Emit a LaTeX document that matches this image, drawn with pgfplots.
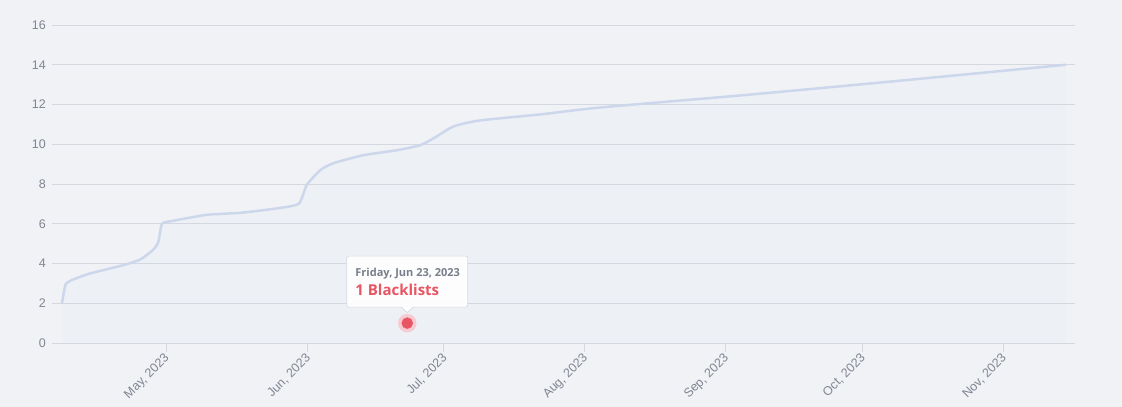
\documentclass[border=0pt]{standalone}
\usepackage{pgfplots}
\pgfplotsset{compat=1.18}
\usepackage{fontspec}
\setmainfont{Liberation Sans}
\newfontfamily\osans{Open Sans}
\definecolor{bgc}{RGB}{240,242,246}
\definecolor{gridc}{RGB}{213,216,222}
\definecolor{tickc}{RGB}{128,133,145}
\definecolor{linec}{RGB}{205,215,236}
\definecolor{dotc}{RGB}{232,85,99}
\definecolor{haloc}{RGB}{246,203,209}
\definecolor{tipborder}{RGB}{214,218,225}
\definecolor{tipgrey}{RGB}{120,126,138}
\begin{document}
\begin{tikzpicture}
\fill[bgc] (-52pt,-64pt) rectangle (1070pt,343pt);
\path[use as bounding box] (-52pt,-64pt) rectangle (1070pt,343pt);
\begin{axis}[
  at={(0pt,0pt)}, anchor=south west,
  scale only axis, width=1023pt, height=318pt,
  xmin=95.9, xmax=320.8, ymin=0, ymax=16,
  clip=false,
  axis line style={draw=none},
  ymajorgrids, grid style={gridc, line width=0.9pt},
  xtick={121,152,182,213,244,274,305},
  xticklabels={{May, 2023},{Jun, 2023},{Jul, 2023},{Aug, 2023},{Sep, 2023},{Oct, 2023},{Nov, 2023}},
  ytick={0,2,...,16},
  xtick pos=bottom, ytick pos=left,
  tick align=outside, major tick length=9pt,
  xtick style={gridc, line width=0.8pt},
  ytick style={draw=none},
  /pgf/number format/assume math mode=true,
  ticklabel style={font=\fontsize{12.5}{14}\selectfont, text=tickc},
  xticklabel style={rotate=45, anchor=east, inner sep=0pt, yshift=-4pt, xshift=-2pt},
  yticklabel style={anchor=east, inner sep=0pt, xshift=3pt},
]
\addplot[draw=none, fill=linec, fill opacity=0.07, smooth, tension=0.35] coordinates {
(98.1,2)(98.9,2.95)(100.6,3.2)(104.3,3.5)(111.6,3.92)(115.3,4.2)(118.2,4.7)(119.3,5.1)(120.1,6.0)(122.6,6.15)(129.9,6.45)(137.3,6.55)(144.6,6.75)(150.1,7.0)(151.9,7.95)(154.9,8.7)(157.8,9.05)(164.4,9.45)(171.7,9.7)(176.8,9.95)(179.8,10.3)(184.2,10.9)(190.0,11.2)(203.2,11.5)(216.4,11.85)(249.4,12.5)(282.4,13.2)(318.8,14.0)
} \closedcycle;
\addplot[linec, line width=2.5pt, smooth, tension=0.35] coordinates {
(98.1,2)(98.9,2.95)(100.6,3.2)(104.3,3.5)(111.6,3.92)(115.3,4.2)(118.2,4.7)(119.3,5.1)(120.1,6.0)(122.6,6.15)(129.9,6.45)(137.3,6.55)(144.6,6.75)(150.1,7.0)(151.9,7.95)(154.9,8.7)(157.8,9.05)(164.4,9.45)(171.7,9.7)(176.8,9.95)(179.8,10.3)(184.2,10.9)(190.0,11.2)(203.2,11.5)(216.4,11.85)(249.4,12.5)(282.4,13.2)(318.8,14.0)
};
\addplot[only marks, color=haloc, mark=*, mark size=9pt, mark options={draw=haloc, fill=haloc}] coordinates {(174,1)};
\addplot[only marks, color=dotc, mark=*, mark size=5.5pt, mark options={draw=dotc, fill=dotc}] coordinates {(174,1)};
% tooltip
\coordinate (D) at (axis cs:174,1);
\draw[tipborder, fill=white, fill opacity=0.92, rounded corners=2pt, line width=0.7pt]
  ([xshift=-60.5pt, yshift=16pt]D) rectangle ([xshift=60.5pt, yshift=67pt]D);
\fill[white] ([xshift=-6pt, yshift=16.5pt]D) -- ([yshift=10.5pt]D) -- ([xshift=6pt, yshift=16.5pt]D) -- cycle;
\draw[tipborder, line width=0.7pt] ([xshift=-6pt, yshift=16pt]D) -- ([yshift=10.5pt]D) -- ([xshift=6pt, yshift=16pt]D);
\node[anchor=base west, inner sep=0pt, text=tipgrey, font=\osans\bfseries\fontsize{11}{13}\selectfont] at ([xshift=-52pt, yshift=47pt]D) {Friday, Jun 23, 2023};
\node[anchor=base west, inner sep=0pt, text=dotc, font=\osans\bfseries\fontsize{15}{17}\selectfont] at ([xshift=-52pt, yshift=28pt]D) {1 Blacklists};
\end{axis}
\end{tikzpicture}
\end{document}
